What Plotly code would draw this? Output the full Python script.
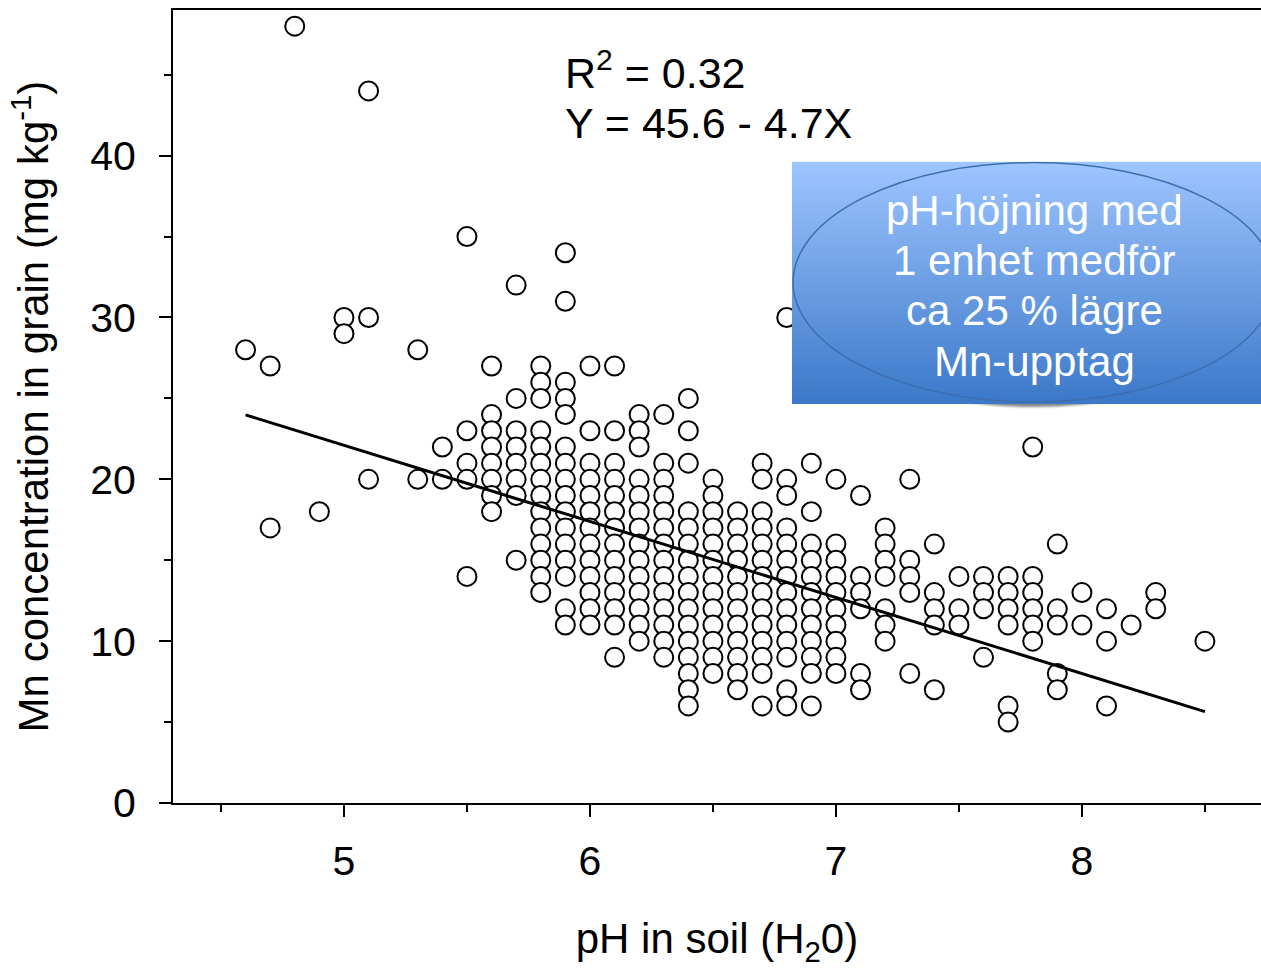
import base64
import plotly.graph_objects as go

# soil pH classes (x) and the Mn values in grain found at each of them (y)
ph_levels = [4.6, 4.7, 4.8, 4.9, 5.0, 5.1, 5.3, 5.4, 5.5, 5.6, 5.7, 5.8, 5.9,
             6.0, 6.1, 6.2, 6.3, 6.4, 6.5, 6.6, 6.7, 6.8, 6.9, 7.0, 7.1, 7.2,
             7.3, 7.4, 7.5, 7.6, 7.7, 7.8, 7.9, 8.0, 8.1, 8.2, 8.3, 8.5]
mn_by_ph = [
    [28],
    [27, 17],
    [48],
    [18],
    [30, 29],
    [44, 30, 20],
    [28, 20],
    [22, 20],
    [35, 23, 21, 20, 14],
    [27, 24, 23, 22, 21, 20, 19, 18],
    [32, 25, 23, 22, 21, 20, 19, 15],
    [27, 26, 25, 23, 22, 21, 20, 19, 18, 17, 16, 15, 14, 13],
    [34, 31, 26, 25, 24, 22, 21, 20, 19, 18, 17, 16, 15, 14, 12, 11],
    [27, 23, 21, 20, 19, 18, 17, 16, 15, 14, 13, 12, 11],
    [27, 23, 21, 20, 19, 18, 17, 16, 15, 14, 13, 12, 11, 9],
    [24, 23, 22, 20, 19, 18, 17, 16, 15, 14, 13, 12, 11, 10],
    [24, 21, 20, 19, 18, 17, 16, 15, 14, 13, 12, 11, 10, 9],
    [25, 23, 21, 18, 17, 16, 15, 14, 13, 12, 11, 10, 9, 8, 7, 6],
    [20, 19, 18, 17, 16, 15, 14, 13, 12, 11, 10, 9, 8],
    [18, 17, 16, 15, 14, 13, 12, 11, 10, 9, 8, 7],
    [21, 20, 18, 17, 16, 15, 14, 13, 12, 11, 10, 9, 8, 6],
    [30, 20, 19, 17, 16, 15, 14, 13, 12, 11, 10, 9, 7, 6],
    [21, 18, 16, 15, 14, 13, 12, 11, 10, 9, 8, 6],
    [20, 16, 15, 14, 13, 12, 11, 10, 9, 8],
    [19, 14, 13, 12, 8, 7],
    [17, 16, 15, 14, 12, 11, 10],
    [20, 15, 14, 13, 8],
    [16, 13, 12, 11, 7],
    [14, 12, 11],
    [14, 13, 12, 9],
    [14, 13, 12, 11, 6, 5],
    [22, 14, 13, 12, 11, 10],
    [16, 12, 11, 8, 7],
    [13, 11],
    [12, 10, 6],
    [11],
    [13, 12],
    [10],
]

# fitted regression (from the chart)
intercept = 45.6
slope = -4.7
r2 = 0.32

box_lines = ["pH-höjning med", "1 enhet medför", "ca 25 % lägre", "Mn-upptag"]

ph = []
mn = []
for p, vals in zip(ph_levels, mn_by_ph):
    for v in vals:
        ph.append(p)
        mn.append(v)

FONT = "Liberation Sans, Arial, sans-serif"

# body margin is removed below (post_script), so figure pixels = window pixels
W, H = 1261, 968
ML, MT, MB = 173, 10, 163
PW, PH = W - ML, H - MT - MB


def px(x):
    # window pixel -> paper x
    return (x - ML) / PW


def py(y):
    # window pixel -> paper y
    return (MT + PH - y) / PH


points = go.Scatter(x=ph, y=mn,
                    mode='markers',
                    marker=dict(symbol='circle', size=19, color='white',
                                line=dict(color='black', width=2)),
                    showlegend=False,
                    )
line_x = [min(ph), max(ph)]
fit = go.Scatter(x=line_x,
                 y=[intercept + slope * xx for xx in line_x],
                 mode='lines',
                 line=dict(color='black', width=3),
                 showlegend=False,
                 )

fig = go.Figure(data=[points, fit])

# blue gradient box with ellipse, drawn as an inline svg picture
svg = '''<svg xmlns="http://www.w3.org/2000/svg" width="470" height="250" viewBox="0 0 470 250">
<defs>
<linearGradient id="g" x1="0" y1="0" x2="0" y2="1">
<stop offset="0" stop-color="#9EC5FF"/><stop offset="1" stop-color="#3B78C8"/>
</linearGradient>
<filter id="b"><feGaussianBlur stdDeviation="1.2"/></filter>
</defs>
<ellipse cx="242" cy="124" rx="241" ry="122" fill="#8a8a8a" filter="url(#b)"/>
<rect x="0" y="0" width="470" height="243" fill="url(#g)"/>
<ellipse cx="242" cy="121" rx="241" ry="120" fill="none" stroke="#3E6DAE" stroke-width="1.5"/>
</svg>'''
src = "data:image/svg+xml;base64," + base64.b64encode(svg.encode()).decode()

fig.add_layout_image(dict(source=src, xref='paper', yref='paper',
                          x=px(792), y=py(162),
                          sizex=470 / PW, sizey=250 / PH,
                          xanchor='left', yanchor='top', sizing='stretch',
                          layer='above'))

for i, txt in enumerate(box_lines):
    fig.add_annotation(text=txt, xref='paper', yref='paper',
                       x=px(1034), y=py(211 + 50.3 * i),
                       xanchor='center', yanchor='middle', showarrow=False,
                       font=dict(family=FONT, size=42, color='white'))

fig.add_annotation(text="R<sup>2</sup> = {:.2f}".format(r2),
                   xref='paper', yref='paper', x=px(563), y=py(70),
                   xanchor='left', yanchor='middle', showarrow=False,
                   font=dict(family=FONT, size=43, color='black'))
fig.add_annotation(text="Y = {} - {}X".format(intercept, abs(slope)),
                   xref='paper', yref='paper', x=px(563), y=py(123),
                   xanchor='left', yanchor='middle', showarrow=False,
                   font=dict(family=FONT, size=43, color='black'))

fig.update_layout(
    width=W, height=H,
    margin=dict(l=ML, r=0, t=MT, b=MB),
    plot_bgcolor='white', paper_bgcolor='white',
    font=dict(family=FONT, size=41, color='black'),
)
fig.update_xaxes(range=[4.305, 8.728], dtick=1, tick0=5,
                 ticks='outside', ticklen=12, tickwidth=1.5, tickcolor='black',
                 minor=dict(dtick=0.5, tick0=4.5, ticks='outside', ticklen=7, tickwidth=1.5, tickcolor='black'),
                 showline=True, linecolor='black', linewidth=2, mirror=True,
                 showgrid=False, zeroline=False,
                 ticklabelstandoff=9,
                 title=dict(text="pH in soil (H<sub>2</sub>0)", standoff=54,
                            font=dict(family=FONT, size=42)))
fig.update_yaxes(range=[0, 49.0], dtick=10, tick0=0,
                 ticks='outside', ticklen=12, tickwidth=1.5, tickcolor='black',
                 minor=dict(dtick=5, ticks='outside', ticklen=7, tickwidth=1.5, tickcolor='black'),
                 showline=True, linecolor='black', linewidth=2,
                 showgrid=False, zeroline=False,
                 ticklabelstandoff=15,
                 title=dict(text="Mn concentration in grain (mg kg<sup>-1</sup>)", standoff=28,
                            font=dict(family=FONT, size=42)))

fig.write_html("out.html", config={'displayModeBar': False},
               post_script="document.body.style.margin='0';document.body.style.overflow='hidden';")
